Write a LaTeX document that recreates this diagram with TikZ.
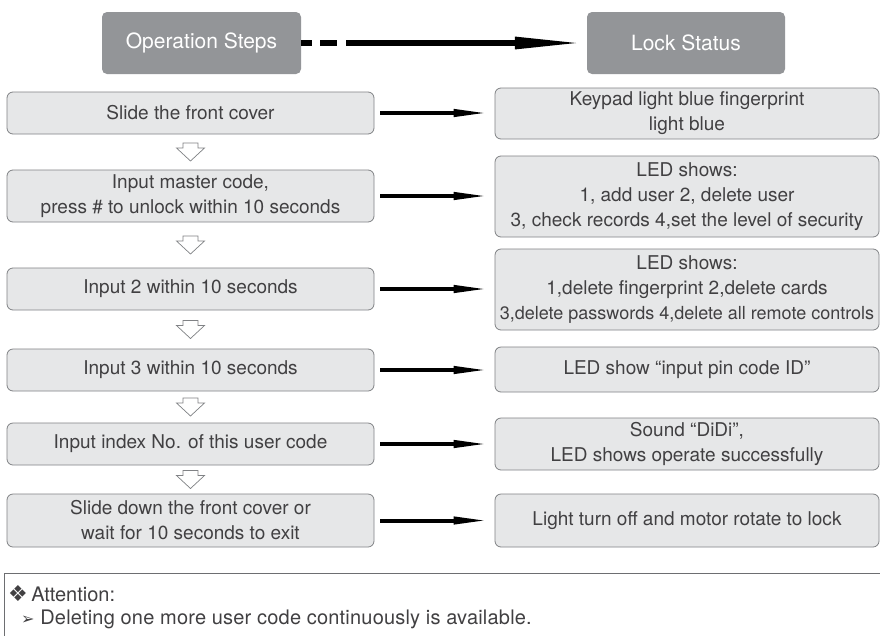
\documentclass[tikz,border=0pt]{standalone}
\usepackage{fontspec}
\setmainfont{TeX Gyre Heros}
\newfontfamily\symfont{DejaVu Sans}
\usetikzlibrary{arrows.meta,calc}
\definecolor{headgray}{HTML}{939598}
\definecolor{boxfill}{HTML}{E6E7E8}
\definecolor{boxborder}{HTML}{808285}
\definecolor{txtgray}{HTML}{414042}
\definecolor{attnline}{HTML}{6D6E71}
\tikzset{
  headbox/.style={rounded corners=5pt, fill=headgray, text=white, inner sep=0pt,
    font=\fontsize{21}{25}\selectfont, align=center, minimum height=62pt},
  stepbox/.style={rounded corners=6pt, draw=boxborder, line width=0.8pt, fill=boxfill,
    text=txtgray, inner sep=0pt, font=\fontsize{19}{25}\selectfont, align=center,
    minimum width=367pt},
  statebox/.style={stepbox, minimum width=384pt},
  rowarrow/.style={line width=4pt, -{Triangle[length=36pt,width=7pt]},
    shorten <=6pt, shorten >=5pt},
  headarrow/.style={line width=6pt, -{Triangle[length=72pt,width=11pt]},
    dash pattern=on 11pt off 8pt on 17pt off 9pt on 600pt off 0pt},
  hollowstyle/.style={draw=boxborder, line width=0.7pt, fill=white, line join=miter},
  hollowarrow/.pic={\draw[hollowstyle] (-7.5,-9) -- (7.5,-9) -- (7.5,-4) -- (14,-4)
    -- (0,9) -- (-14,-4) -- (-7.5,-4) -- cycle;},
  attntext/.style={text=txtgray, inner sep=0pt, anchor=base west}
}
\begin{document}
\begin{tikzpicture}[x=1pt,y=-1pt]
\useasboundingbox[fill=white] (0,0) rectangle (880,635);
% headers
\node[headbox, minimum width=199pt] (op) at (201.5,43) {Operation Steps};
\node[headbox, minimum width=198pt] (ls) at (686,43) {Lock Status};
\draw[headarrow] (op.east) -- (ls.west);
% left steps
\node[stepbox, minimum height=42pt] (l1) at (190.5,113) {Slide the front cover};
\node[stepbox, minimum height=52pt] (l2) at (190.5,196) {Input master code,\\press \# to unlock within 10 seconds};
\node[stepbox, minimum height=42pt] (l3) at (190.5,289) {Input 2 within 10 seconds};
\node[stepbox, minimum height=42pt] (l4) at (190.5,370) {Input 3 within 10 seconds};
\node[stepbox, minimum height=42pt] (l5) at (190.5,444) {Input index No. of this user code};
\node[stepbox, minimum height=53pt] (l6) at (190.5,520.5) {Slide down the front cover or\\wait for 10 seconds to exit};
% right states
\node[statebox, minimum height=51pt] (r1) at (687,113.5) {Keypad light blue fingerprint\\light blue};
\node[statebox, minimum height=81pt] (r2) at (687,196.5) {LED shows:\\1, add user 2, delete user\\3, check records 4,set the level of security};
\node[statebox, minimum height=81pt] (r3) at (687,289.5) {LED shows:\\1,delete fingerprint 2,delete cards\\{\fontsize{18}{25}\selectfont 3,delete passwords 4,delete all remote controls}};
\node[statebox, minimum height=45pt] (r4) at (687,369.5) {LED show “input pin code ID”};
\node[statebox, minimum height=52pt] (r5) at (687,444) {Sound “DiDi”,\\LED shows operate successfully};
\node[statebox, minimum height=53pt] (r6) at (687,520.5) {Light turn off and motor rotate to lock};
% row arrows
\foreach \i in {1,...,6}{
  \draw[rowarrow] (l\i.east) -- (l\i.east -| r\i.west);
}
% hollow down arrows
\foreach \a/\b in {1/2,2/3,3/4,4/5,5/6}{
  \path ($(l\a.south)!0.5!(l\b.north)$) pic {hollowarrow};
}
% attention
\draw[attnline, line width=0.9pt] (880,573) -- (4.5,573) -- (4.5,640);
\node[attntext, font=\fontsize{20}{22}\selectfont] (att) at (8,601) {{\symfont\fontsize{22}{22}\selectfont ❖}\,Attention:};
\node[attntext, font=\fontsize{20}{22}\selectfont\addfontfeatures{LetterSpace=1}] (del) at (21,624) {{\symfont\fontsize{16}{16}\selectfont ➢}\ Deleting one more user code continuously is available.};
\end{tikzpicture}
\end{document}
